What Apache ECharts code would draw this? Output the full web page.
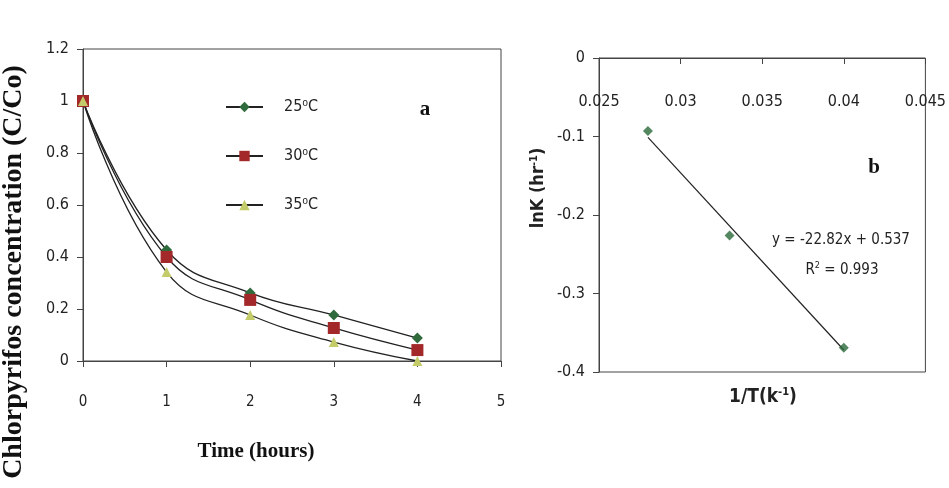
<!DOCTYPE html>
<html>
<head>
<meta charset="utf-8">
<script src="https://cdn.jsdelivr.net/npm/echarts@6/dist/echarts.min.js"></script>
<style>
  html, body { margin: 0; padding: 0; background: #fff; }
  #chart { width: 949px; height: 488px; }
</style>
</head>
<body>
<div id="chart"></div>
<script>
// panel a: concentration vs time
const timeHours = [0, 1, 2, 3, 4];
const conc25 = [1, 0.427, 0.262, 0.177, 0.088];
const conc30 = [1, 0.400, 0.235, 0.127, 0.042];
const conc35 = [1, 0.342, 0.177, 0.073, 0.0];
const seriesNames = ['25⁰C', '30⁰C', '35⁰C'];

// panel b: Arrhenius plot
const invT = [0.028, 0.033, 0.040];
const lnK = [-0.093, -0.226, -0.369];
const trendX = [0.028, 0.040];
const trendY = [-0.101, -0.372];

const chart = echarts.init(document.getElementById('chart'));

const tickFont = 'DejaVu Sans Condensed, Liberation Sans, sans-serif';
const axisColor = '#444';

const pair = (xs, ys) => xs.map((x, i) => [x, ys[i]]);

const option = {
  backgroundColor: '#fff',
  animation: false,
  grid: [
    { left: 83, top: 49, width: 418, height: 312, show: true, borderColor: axisColor, borderWidth: 1 },
    { left: 599, top: 58, width: 328, height: 314, show: true, borderColor: axisColor, borderWidth: 1 }
  ],
  legend: {
    data: seriesNames,
    orient: 'vertical',
    left: 220,
    top: 94,
    itemWidth: 37,
    itemHeight: 13,
    itemGap: 33,
    textStyle: { fontFamily: tickFont, fontSize: 16, color: '#222', padding: [0, 0, 8, 16] }
  },
  xAxis: [
    {
      gridIndex: 0, type: 'value', min: 0, max: 5, interval: 1,
      axisLine: { lineStyle: { color: axisColor } },
      axisTick: { inside: false, length: 6, lineStyle: { color: axisColor } },
      axisLabel: { margin: 34, fontFamily: tickFont, fontSize: 15, color: '#222' },
      splitLine: { show: false }
    },
    {
      gridIndex: 1, type: 'value', position: 'top', min: 0.025, max: 0.045, interval: 0.005,
      axisLine: { onZero: false, lineStyle: { color: axisColor } },
      axisTick: { inside: true, length: 6, lineStyle: { color: axisColor } },
      axisLabel: { inside: true, margin: 36, fontFamily: tickFont, fontSize: 16, color: '#222' },
      splitLine: { show: false }
    }
  ],
  yAxis: [
    {
      gridIndex: 0, type: 'value', min: 0, max: 1.2, interval: 0.2,
      axisLine: { show: true, lineStyle: { color: axisColor } },
      axisTick: { show: true, length: 6, lineStyle: { color: axisColor } },
      axisLabel: { margin: 14, fontFamily: tickFont, fontSize: 16, color: '#222' },
      splitLine: { show: false }
    },
    {
      gridIndex: 1, type: 'value', min: -0.4, max: 0, interval: 0.1,
      axisLine: { show: true, onZero: false, lineStyle: { color: axisColor } },
      axisTick: { show: true, length: 6, lineStyle: { color: axisColor } },
      axisLabel: { margin: 14, fontFamily: tickFont, fontSize: 16, color: '#222' },
      splitLine: { show: false }
    }
  ],
  series: [
    {
      name: seriesNames[0], type: 'line', xAxisIndex: 0, yAxisIndex: 0,
      data: pair(timeHours, conc25), smooth: 0.45,
      symbol: 'diamond', symbolSize: 11,
      lineStyle: { color: '#222', width: 1.3 },
      itemStyle: { color: '#2f6b3c' }
    },
    {
      name: seriesNames[1], type: 'line', xAxisIndex: 0, yAxisIndex: 0,
      data: pair(timeHours, conc30), smooth: 0.45,
      symbol: 'rect', symbolSize: 12,
      lineStyle: { color: '#222', width: 1.3 },
      itemStyle: { color: '#a3282a' }
    },
    {
      name: seriesNames[2], type: 'line', xAxisIndex: 0, yAxisIndex: 0,
      data: pair(timeHours, conc35), smooth: 0.45,
      symbol: 'triangle', symbolSize: 10,
      lineStyle: { color: '#222', width: 1.3 },
      itemStyle: { color: '#c4cc6a' }
    },
    {
      name: 'trend', type: 'line', xAxisIndex: 1, yAxisIndex: 1,
      data: pair(trendX, trendY), symbol: 'none',
      lineStyle: { color: '#222', width: 1.2 }
    },
    {
      name: 'lnK', type: 'scatter', xAxisIndex: 1, yAxisIndex: 1,
      data: pair(invT, lnK), symbol: 'diamond', symbolSize: 10,
      itemStyle: { color: '#2a6a3a' }, z: 5
    }
  ],
  graphic: [
    {
      type: 'text', x: 14, y: 272, rotation: Math.PI / 2,
      style: {
        text: 'Chlorpyrifos concentration (C/Co)',
        font: 'bold 28px "Liberation Serif", serif',
        fill: '#111', align: 'center', verticalAlign: 'middle'
      }
    },
    {
      type: 'text', x: 256, y: 452,
      style: {
        text: 'Time (hours)',
        font: 'bold 21px "Liberation Serif", serif',
        fill: '#111', align: 'center', verticalAlign: 'middle'
      }
    },
    {
      type: 'text', x: 425, y: 110,
      style: { text: 'a', font: 'bold 21px "Liberation Serif", serif', fill: '#111', align: 'center', verticalAlign: 'middle' }
    },
    {
      type: 'text', x: 874, y: 168,
      style: { text: 'b', font: 'bold 21px "Liberation Serif", serif', fill: '#111', align: 'center', verticalAlign: 'middle' }
    },
    {
      type: 'text', x: 538, y: 188, rotation: Math.PI / 2,
      style: {
        text: '{t|lnK (hr}{s|-1}{t|)}',
        align: 'center', verticalAlign: 'middle',
        rich: {
          t: { font: 'bold 18px "DejaVu Sans Condensed", sans-serif', fill: '#222' },
          s: { font: 'bold 11px "DejaVu Sans Condensed", sans-serif', fill: '#222', padding: [0, 0, 8, 0] }
        }
      }
    },
    {
      type: 'text', x: 763, y: 397,
      style: {
        text: '{t|1/T(k}{s|-1}{t|)}',
        align: 'center', verticalAlign: 'middle',
        rich: {
          t: { font: 'bold 19px "DejaVu Sans Condensed", sans-serif', fill: '#222' },
          s: { font: 'bold 11px "DejaVu Sans Condensed", sans-serif', fill: '#222', padding: [0, 0, 10, 0] }
        }
      }
    },
    {
      type: 'text', x: 841, y: 240,
      style: {
        text: 'y = -22.82x + 0.537',
        font: '15px "DejaVu Sans Condensed", sans-serif',
        fill: '#222', align: 'center', verticalAlign: 'middle'
      }
    },
    {
      type: 'text', x: 842, y: 270,
      style: {
        text: '{t|R}{s|2}{t| = 0.993}',
        align: 'center', verticalAlign: 'middle',
        rich: {
          t: { font: '15px "DejaVu Sans Condensed", sans-serif', fill: '#222' },
          s: { font: '9px "DejaVu Sans Condensed", sans-serif', fill: '#222', padding: [0, 0, 8, 0] }
        }
      }
    }
  ]
};

chart.setOption(option);
</script>
</body>
</html>
